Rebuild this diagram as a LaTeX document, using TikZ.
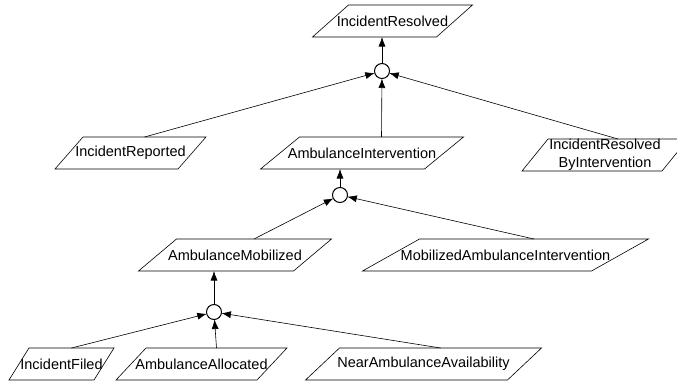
\documentclass[tikz,border=0pt]{standalone}
\usepackage{fontspec}
\setmainfont{Liberation Sans}
\usetikzlibrary{arrows.meta}
% \goalbox{name}{x}{y}{body width}{slant}{text}: a slanted goal box with
% named mid points of its top (name-top) and bottom (name-bot) edges
\newcommand\goalbox[6]{%
  \node[goaltext, minimum width=#4pt] (#1) at (#2,#3) {#6};
  \draw[goaledge]
    ([xshift={-#5*0.5pt}]#1.south west) -- ([xshift={-#5*0.5pt}]#1.south east)
    -- ([xshift={#5*0.5pt}]#1.north east) -- ([xshift={#5*0.5pt}]#1.north west)
    -- cycle;
  \coordinate (#1-top) at ([xshift={#5*0.5pt}]#1.north);
  \coordinate (#1-bot) at ([xshift={-#5*0.5pt}]#1.south);
}
\begin{document}
\begin{tikzpicture}[x=1pt,y=-1pt,
  goaltext/.style={rectangle, minimum height=32pt, inner sep=0pt, outer sep=0pt,
    font=\fontsize{14.5}{18}\selectfont, align=center},
  goaledge/.style={line width=0.6pt},
  andnode/.style={draw, circle, minimum size=15pt, inner sep=0pt,
    outer sep=0pt, line width=1pt},
  link/.style={line width=0.6pt},
  refine/.style={link, -{Latex[length=9.5pt,width=7pt]}}
]
\clip (0,0) rectangle (677,383);

% goals
\goalbox{ires}{392.5}{21}{124}{36}{IncidentResolved}
\goalbox{irep}{130.5}{153}{123}{28}{IncidentReported}
\goalbox{ai}{362}{153}{164}{39}{AmbulanceIntervention}
\goalbox{irbi}{605}{155}{140}{26}{IncidentResolved\\ByIntervention}
\goalbox{am}{235}{255}{155}{38}{AmbulanceMobilized}
\goalbox{mai}{505.5}{255}{229}{57}{MobilizedAmbulanceIntervention}
\goalbox{if}{61.5}{364}{85}{20}{IncidentFiled}
\goalbox{aa}{201.5}{364}{141}{30}{AmbulanceAllocated}
\goalbox{naa}{423.5}{364}{202}{34}{NearAmbulanceAvailability}

% AND-refinements
\node[andnode] (c1) at (382,71)  {};
\node[andnode] (c2) at (340,195) {};
\node[andnode] (c3) at (214,312) {};

% refinement links
\draw[refine] (c1.north) -- (c1.north |- ires-bot);
\draw[refine] (irep-top) -- (c1);
\draw[refine] (ai-top) -- (c1);
\draw[refine] (irbi-top) -- (c1);

\draw[refine] (c2.north) -- (c2.north |- ai-bot);
\draw[refine] (am-top) -- (c2);
\draw[refine] (mai-top) -- (c2);

\draw[refine] (c3.north) -- (c3.north |- am-bot);
\draw[refine] (if-top) -- (c3);
\draw[refine] (aa-top) -- (c3);
\draw[refine] (naa-top) -- (c3);
\end{tikzpicture}
\end{document}
